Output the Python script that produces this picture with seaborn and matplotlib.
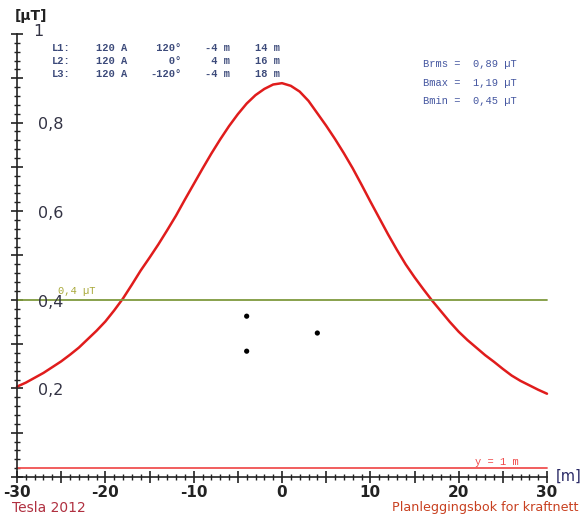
import numpy as np
import pandas as pd
import matplotlib
matplotlib.use("Agg")
import matplotlib.pyplot as plt
from matplotlib.ticker import MultipleLocator
import seaborn as sns

# ---- data ----
dist_m = [-30, -29, -28, -27, -26, -25, -24, -23, -22, -21, -20, -19, -18, -17, -16,
          -15, -14, -13, -12, -11, -10, -9, -8, -7, -6, -5, -4, -3, -2, -1,
          0, 1, 2, 3, 4, 5, 6, 7, 8, 9, 10, 11, 12, 13, 14, 15, 16, 17, 18, 19,
          20, 21, 22, 23, 24, 25, 26, 27, 28, 29, 30]
b_uT = [0.204, 0.213, 0.224, 0.235, 0.248, 0.261, 0.276, 0.292, 0.311, 0.330, 0.351,
        0.376, 0.403, 0.434, 0.466, 0.495, 0.525, 0.557, 0.590, 0.626, 0.661, 0.696,
        0.730, 0.762, 0.792, 0.819, 0.843, 0.862, 0.876, 0.886,
        0.889, 0.883, 0.870, 0.849, 0.821, 0.793, 0.763, 0.731, 0.697, 0.660,
        0.622, 0.585, 0.548, 0.513, 0.480, 0.451, 0.424, 0.398, 0.374, 0.350,
        0.328, 0.309, 0.292, 0.275, 0.260, 0.244, 0.229, 0.217, 0.207, 0.197, 0.188]
cond_x = [-4, 4, -4]
cond_y = [0.284, 0.325, 0.363]
limit_uT = 0.4
ground_line = 0.02
ytick_labels = {0.2: "0,2", 0.4: "0,4", 0.6: "0,6", 0.8: "0,8", 1.0: "1"}
xtick_vals = [-30, -20, -10, 0, 10, 20, 30]
table_rows = [
    ("L1:", "120 A", " 120°", "-4 m", "14 m"),
    ("L2:", "120 A", "   0°", " 4 m", "16 m"),
    ("L3:", "120 A", "-120°", "-4 m", "18 m"),
]
stats = [("Brms", "0,89"), ("Bmax", "1,19"), ("Bmin", "0,45")]

sns.set_style("white")
plt.rcParams["font.family"] = ["DejaVu Sans"]

W, H = 584, 517
fig = plt.figure(figsize=(W / 100, H / 100), dpi=100)
x0, x1 = 17, 547
y0, y1 = 477, 34
ax = fig.add_axes([x0 / W, 1 - y0 / H, (x1 - x0) / W, (y0 - y1) / H])
ax.set_xlim(-30, 30)
ax.set_ylim(0, 1)
ax.patch.set_alpha(0)

df = pd.DataFrame({"x": dist_m, "b": b_uT})
sns.lineplot(data=df, x="x", y="b", ax=ax, color="#e01c1c", lw=1.8, clip_on=False)
sns.scatterplot(x=cond_x, y=cond_y, ax=ax, color="black", s=14, edgecolor="none")

ax.plot([-30, 30], [limit_uT, limit_uT], color="#7f9a3e", lw=1.3, clip_on=False)
ax.plot([-30, 30], [ground_line, ground_line], color="#f05050", lw=1.3, clip_on=False)

for s in ["top", "right"]:
    ax.spines[s].set_visible(False)
for s in ["left", "bottom"]:
    ax.spines[s].set_color("#222222")
    ax.spines[s].set_linewidth(1.2)

ax.xaxis.set_major_locator(MultipleLocator(5))
ax.xaxis.set_minor_locator(MultipleLocator(1))
ax.yaxis.set_major_locator(MultipleLocator(0.1))
ax.yaxis.set_minor_locator(MultipleLocator(0.02))
ax.tick_params(axis="both", which="both", bottom=True, left=True, top=False, right=False)
ax.tick_params(axis="both", which="major", direction="inout", length=9, width=1.2,
               color="#222222")
ax.tick_params(axis="both", which="minor", direction="inout", length=4.5, width=1.0,
               color="#222222")
ax.set_yticklabels([])
ax.set_xticks(np.arange(-30, 31, 5))
ax.set_xticklabels([str(v) if v in xtick_vals else "" for v in range(-30, 31, 5)],
                   fontsize=11, color="#222222", fontweight="bold")
ax.tick_params(axis="x", pad=1)
ax.set_xlabel("")
ax.set_ylabel("")

for v, lab in ytick_labels.items():
    ax.text(-27.6 if lab != "1" else -28.2, v - (0.005 if lab != "1" else -0.005), lab,
            fontsize=11.5, color="#333344", ha="left", va="center")

mono = "Liberation Mono"
tcol = "#3c4a7a"
col_x = [52, 96, 150, 205, 255]
for i, row in enumerate(table_rows):
    for cx, t in zip(col_x, row):
        fig.text(cx / W, 1 - (48 + 13 * i) / H, t, family=mono, fontsize=7.5,
                 color=tcol, va="center", ha="left", fontweight="bold")

for i, (k, v) in enumerate(stats):
    fig.text(423 / W, 1 - (64 + 18.5 * i) / H, f"{k} =  {v} µT", family=mono,
             fontsize=7.5, color="#4456a0", va="center", ha="left")

fig.text(58 / W, 1 - 291 / H, "0,4 µT", family=mono, fontsize=7.5,
         color="#a8a838", va="center", ha="left")
fig.text(475 / W, 1 - 462 / H, "y = 1 m", family=mono, fontsize=7.5,
         color="#f04848", va="center", ha="left")

fig.text(15 / W, 1 - 16 / H, "[µT]", fontsize=10, color="#222222",
         fontweight="bold", va="center", ha="left")
fig.text(556 / W, 1 - 476 / H, "[m]", fontsize=10.5, color="#2a2a66",
         va="center", ha="left")
fig.text(12 / W, 1 - 508 / H, "Tesla 2012", fontsize=10, color="#b03040",
         va="center", ha="left")
fig.text(392 / W, 1 - 508 / H, "Planleggingsbok for kraftnett", fontsize=9.2,
         color="#c84020", va="center", ha="left")

fig.savefig("out.png", dpi=100, facecolor="white")
